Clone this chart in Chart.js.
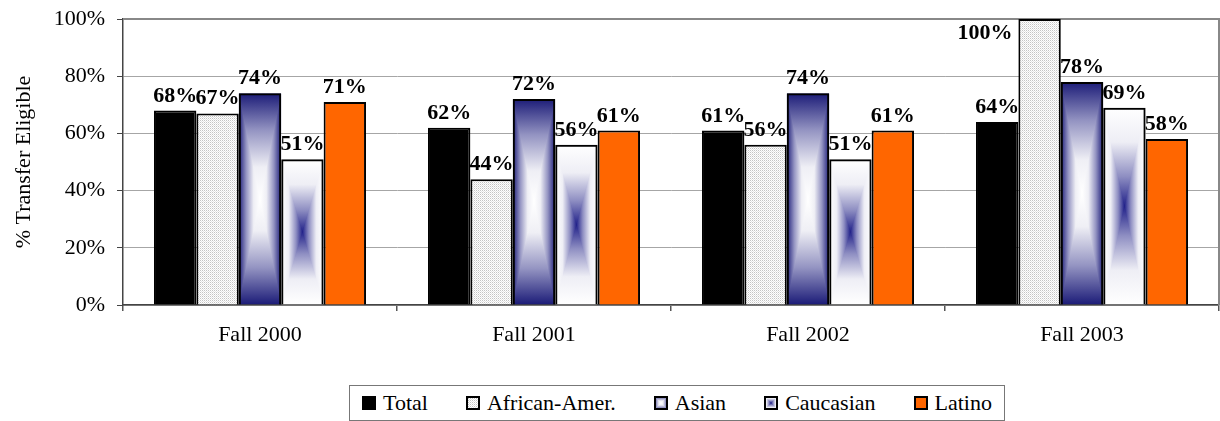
<!DOCTYPE html>
<html>
<head>
<meta charset="utf-8">
<title>% Transfer Eligible</title>
<script src="https://cdn.jsdelivr.net/npm/chart.js@4.4.1/dist/chart.umd.min.js"></script>
<style>
  body { margin: 0; background: #fff; }
  #wrap { position: relative; width: 1220px; height: 421px; }
  #legend {
    position: absolute; left: 349px; top: 385px; height: 34px;
    border: 1px solid #777; display: flex; align-items: center; padding: 0 12px;
    font: 22px "Liberation Serif", "Times New Roman", serif; color: #000; background: #fff;
  }
  .item { display: flex; align-items: center; margin-right: 38px; }
  .item:last-child { margin-right: 0; }
  .item canvas { margin-right: 7px; }
</style>
</head>
<body>
<div id="wrap">
  <canvas id="chart" width="1220" height="421"></canvas>
  <div id="legend"></div>
</div>
<script>
// data
const categories = ['Fall 2000', 'Fall 2001', 'Fall 2002', 'Fall 2003'];
const seriesNames = ['Total', 'African-Amer.', 'Asian', 'Caucasian', 'Latino'];
const total = [68, 62, 61, 64];
const africanAmer = [67, 44, 56, 100];
const asian = [74, 72, 74, 78];
const caucasian = [51, 56, 51, 69];
const latino = [71, 61, 61, 58];
const yTicks = [0, 20, 40, 60, 80, 100];

const SERIF = '"Liberation Serif", "Times New Roman", serif';

// "from center" gradients like the Excel fills (0 = centre, 1 = edge)
const asianStops = [[0, '#ffffff'], [0.3, '#efeff5'], [0.65, '#9494c2'], [1, '#1c1c78']];
const caucStops = [[0, '#22228a'], [0.3, '#8e8ec2'], [0.65, '#eeeef5'], [1, '#ffffff']];

function mirrored(g, stops) {
  stops.forEach(([o, c]) => {
    g.addColorStop(0.5 - o / 2, c);
    g.addColorStop(0.5 + o / 2, c);
  });
}

// rectangle gradient: colour depends on max(|dx|/halfW, |dy|/halfH)
function rectGradient(ctx, l, t, r, b, stops) {
  const cx = (l + r) / 2, cy = (t + b) / 2;
  ctx.save();
  ctx.beginPath();
  ctx.rect(l, t, r - l, b - t);
  ctx.clip();
  const gv = ctx.createLinearGradient(cx, t, cx, b);
  mirrored(gv, stops);
  ctx.fillStyle = gv;
  ctx.fillRect(l, t, r - l, b - t);
  const gh = ctx.createLinearGradient(l, cy, r, cy);
  mirrored(gh, stops);
  ctx.fillStyle = gh;
  ctx.beginPath();
  ctx.moveTo(l, t); ctx.lineTo(cx, cy); ctx.lineTo(l, b); ctx.closePath();
  ctx.moveTo(r, t); ctx.lineTo(cx, cy); ctx.lineTo(r, b); ctx.closePath();
  ctx.fill();
  ctx.restore();
}

function dotCanvas() {
  const c = document.createElement('canvas');
  c.width = 2; c.height = 2;
  const x = c.getContext('2d');
  x.fillStyle = '#ffffff'; x.fillRect(0, 0, 2, 2);
  x.fillStyle = '#c4c4c4'; x.fillRect(0, 0, 1, 1);
  x.fillStyle = '#e4e4e4'; x.fillRect(1, 1, 1, 1);
  return c;
}
const dots = document.getElementById('chart').getContext('2d').createPattern(dotCanvas(), 'repeat');

const fills = ['#000000', dots, 'rgba(0,0,0,0)', 'rgba(0,0,0,0)', '#ff6600'];
const gradientFor = { 2: asianStops, 3: caucStops };

const framePlugin = {
  id: 'frameAndGradients',
  beforeDatasetsDraw(chart) {
    const ctx = chart.ctx;
    const a = chart.chartArea;
    ctx.save();
    ctx.strokeStyle = '#888';
    ctx.lineWidth = 2;
    ctx.beginPath();
    ctx.moveTo(a.left, a.top);
    ctx.lineTo(a.right, a.top);
    ctx.lineTo(a.right, a.bottom);
    ctx.stroke();
    ctx.restore();
    Object.keys(gradientFor).forEach(di => {
      chart.getDatasetMeta(+di).data.forEach(bar => {
        const p = bar.getProps(['x', 'y', 'base', 'width'], true);
        rectGradient(ctx, p.x - p.width / 2, Math.min(p.y, p.base),
          p.x + p.width / 2, Math.max(p.y, p.base), gradientFor[di]);
      });
    });
  }
};

const labelPlugin = {
  id: 'valueLabels',
  afterDatasetsDraw(chart) {
    const ctx = chart.ctx;
    const top = chart.chartArea.top;
    ctx.save();
    ctx.font = 'bold 22px ' + SERIF;
    ctx.fillStyle = '#000';
    ctx.textBaseline = 'alphabetic';
    chart.data.datasets.forEach((ds, di) => {
      chart.getDatasetMeta(di).data.forEach((bar, i) => {
        const text = ds.data[i] + '%';
        if (bar.y - 26 < top) {
          // no room above: put it beside the bar
          ctx.textAlign = 'right';
          ctx.fillText(text, bar.x - bar.width / 2 - 6, bar.y + 20);
        } else {
          ctx.textAlign = 'center';
          ctx.fillText(text, bar.x, bar.y - 9);
        }
      });
    });
    ctx.restore();
  }
};

const seriesData = [total, africanAmer, asian, caucasian, latino];

new Chart(document.getElementById('chart'), {
  type: 'bar',
  data: {
    labels: categories,
    datasets: seriesNames.map((name, i) => ({
      label: name,
      data: seriesData[i],
      backgroundColor: fills[i],
      borderColor: '#000',
      borderWidth: 2,
      barPercentage: 1,
      categoryPercentage: 0.774
    }))
  },
  options: {
    responsive: false,
    animation: false,
    devicePixelRatio: 1,
    layout: { padding: { top: 19, right: 1, left: 0, bottom: 0 } },
    plugins: {
      legend: { display: false },
      tooltip: { enabled: false }
    },
    scales: {
      x: {
        grid: { offset: true, drawOnChartArea: false, tickLength: 6, color: '#555', lineWidth: 1.5 },
        border: { color: '#444', width: 1.5 },
        ticks: { font: { family: SERIF, size: 22 }, color: '#000', padding: 11 },
        afterFit: s => { s.height = 116; }
      },
      y: {
        min: 0,
        max: 100,
        afterBuildTicks: s => { s.ticks = yTicks.map(v => ({ value: v })); },
        ticks: { callback: v => v + '%', font: { family: SERIF, size: 22 }, color: '#000', padding: 12 },
        grid: { color: '#a6a6a6', tickLength: 6, tickColor: '#444' },
        border: { color: '#444', width: 1.5 },
        title: {
          display: true,
          text: '% Transfer Eligible',
          font: { family: SERIF, size: 22 },
          color: '#000',
          padding: { top: 11, bottom: 0 }
        },
        afterFit: s => { s.width = 123; s.paddingTop = 0; s.paddingBottom = 0; }
      }
    }
  },
  plugins: [framePlugin, labelPlugin]
});

// legend
const legend = document.getElementById('legend');
seriesNames.forEach((name, i) => {
  const item = document.createElement('div');
  item.className = 'item';
  const sw = document.createElement('canvas');
  sw.width = 14; sw.height = 14;
  const sx = sw.getContext('2d');
  if (gradientFor[i]) {
    rectGradient(sx, 0, 0, 14, 14, gradientFor[i]);
  } else {
    sx.fillStyle = i === 1 ? sx.createPattern(dotCanvas(), 'repeat') : fills[i];
    sx.fillRect(0, 0, 14, 14);
  }
  sx.strokeStyle = '#000';
  sx.lineWidth = 2;
  sx.strokeRect(1, 1, 12, 12);
  const label = document.createElement('span');
  label.textContent = name;
  item.appendChild(sw);
  item.appendChild(label);
  legend.appendChild(item);
});
</script>
</body>
</html>
